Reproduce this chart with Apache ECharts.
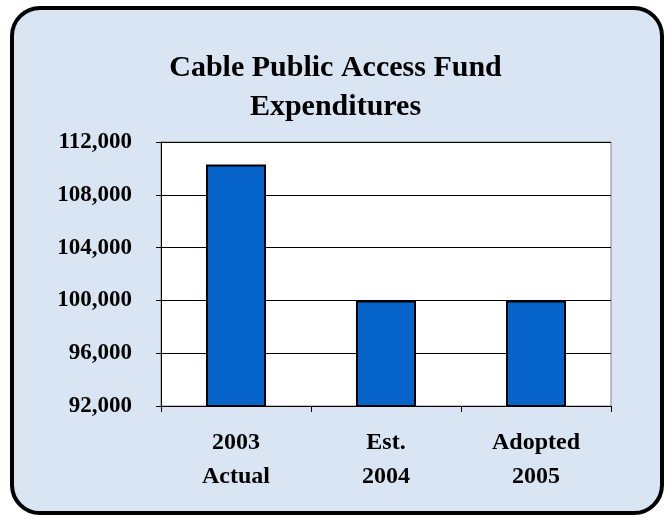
<!DOCTYPE html>
<html><head><meta charset="utf-8">
<script src="https://cdn.jsdelivr.net/npm/echarts@6/dist/echarts.min.js"></script>
<style>html,body{margin:0;padding:0;background:#fff}#c{width:671px;height:520px}</style>
</head><body><div id="c"></div>
<script>
const titleLines = ["Cable Public Access Fund", "Expenditures"];
const categories = ["2003\nActual", "Est.\n2004", "Adopted\n2005"];
const values = [110300, 100000, 100000];
const yMin = 92000, yMax = 112000, yStep = 4000;

const chart = echarts.init(document.getElementById('c'));
const serif = '"Liberation Serif", "Times New Roman", serif';
chart.setOption({
  animation: false,
  graphic: [{
    type: 'rect', z: -10, silent: true,
    shape: {x: 12, y: 8, width: 650, height: 505, r: 28},
    style: {fill: '#d9e5f3', stroke: '#000', lineWidth: 4}
  }],
  title: {
    text: titleLines.join('\n'), left: 'center', top: 44,
    textStyle: {fontFamily: serif, fontWeight: 'bold', fontSize: 30, color: '#000', lineHeight: 39}
  },
  grid: {left: 161, right: 60, top: 142, bottom: 114, show: true, backgroundColor: '#fff', borderColor: '#888', borderWidth: 1},
  xAxis: {
    type: 'category', data: categories,
    axisLine: {lineStyle: {color: '#000', width: 1}},
    axisTick: {show: true, length: 6, lineStyle: {color: '#000'}},
    axisLabel: {fontFamily: serif, fontWeight: 'bold', fontSize: 24, color: '#000', lineHeight: 34, margin: 20}
  },
  yAxis: {
    type: 'value', min: yMin, max: yMax, interval: yStep,
    axisLine: {show: true, lineStyle: {color: '#000', width: 1}},
    axisTick: {show: true, length: 5, lineStyle: {color: '#000'}},
    splitLine: {lineStyle: {color: '#000', width: 1}},
    axisLabel: {fontFamily: serif, fontWeight: 'bold', fontSize: 23, color: '#000', margin: 29,
      formatter: v => v.toLocaleString('en-US')}
  },
  series: [{
    type: 'bar', data: values, barCategoryGap: '60%',
    itemStyle: {color: '#0563c9', borderColor: '#000', borderWidth: 2}
  }]
});
</script></body></html>
